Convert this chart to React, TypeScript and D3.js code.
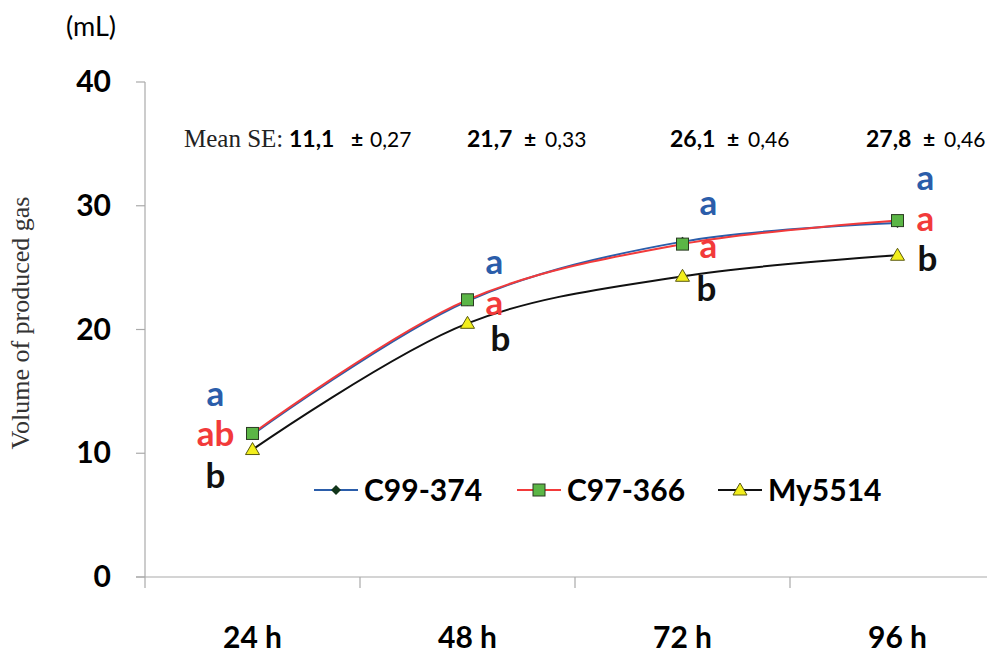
import React from 'react'
import * as d3 from 'd3'

const hours = ['24 h', '48 h', '72 h', '96 h']
const c99 = [11.5, 22.3, 27.1, 28.6]
const c97 = [11.6, 22.4, 26.9, 28.8]
const my55 = [10.3, 20.5, 24.3, 26.0]
const yTicks = [0, 10, 20, 30, 40]
const meanSE = ['11,1', '21,7', '26,1', '27,8']
const seVal = ['0,27', '0,33', '0,46', '0,46']
const lettersC99 = ['a', 'a', 'a', 'a']
const lettersC97 = ['ab', 'a', 'a', 'a']
const lettersMy = ['b', 'b', 'b', 'b']

const W = 987
const H = 653
const sans = "Lato, 'Open Sans', sans-serif"
const serif = "'Liberation Serif', 'DejaVu Serif', serif"
const blue = '#2B5DAA'
const red = '#F23A3A'

export default function App() {
  const x = d3.scaleBand().domain(hours).range([145, 1005])
  const y = d3.scaleLinear().domain([0, 40]).range([577, 82])
  const cx = (h: string) => (x(h) as number) + x.bandwidth() / 2

  const line = d3.line<number>()
    .x((d, i) => cx(hours[i]))
    .y(d => y(d))
    .curve(d3.curveCatmullRom.alpha(0.5))

  const series = [
    { name: 'C99-374', vals: c99, color: blue, marker: 'diamond' },
    { name: 'C97-366', vals: c97, color: red, marker: 'square' },
    { name: 'My5514', vals: my55, color: '#111', marker: 'triangle' },
  ]

  const marker = (m: string, px: number, py: number, key: string) => {
    if (m === 'diamond')
      return <path key={key} d={`M${px},${py - 5}L${px + 5},${py}L${px},${py + 5}L${px - 5},${py}Z`} fill="#12351a" />
    if (m === 'square')
      return <rect key={key} x={px - 6} y={py - 6} width={12} height={12} fill="#5BB646" stroke="#2a3a22" strokeWidth={1} />
    return <path key={key} d={`M${px},${py - 7}L${px + 7},${py + 5}L${px - 7},${py + 5}Z`} fill="#F2EE1C" stroke="#5a5a10" strokeWidth={1} />
  }

  // letter offsets from the marker of each series
  const dxA = [-37, 27, 26, 28]
  const dxB = [-37, 33, 24, 30]
  const dyBlue = [-29, -27, -27, -33]
  const dyRed = [13, 15, 14, 10]
  const dyBlack = [38, 28, 25, 16]
  const legendX = [314, 517, 718]
  // Mean SE row text positions
  const numX = [289, 467, 670, 866]

  return (
    <svg width={W} height={H} style={{ position: 'absolute', left: 0, top: 0, background: '#fff' }}>
      <text x={91} y={36} fontFamily={sans} fontSize={27} textAnchor="middle">(mL)</text>
      <text transform="translate(29,323) rotate(-90)" fontFamily={serif} fontSize={26} fill="#333" textAnchor="middle">Volume of produced gas</text>

      {/* axes */}
      <line x1={145} x2={145} y1={82} y2={577} stroke="#aaa" strokeWidth={1.2} />
      <line x1={136} x2={1005} y1={577} y2={577} stroke="#aaa" strokeWidth={1.2} />
      {yTicks.map(t => (
        <g key={t}>
          <line x1={136} x2={145} y1={y(t)} y2={y(t)} stroke="#aaa" strokeWidth={1.2} />
          <text x={111} y={y(t) + 10} textAnchor="end" fontFamily={sans} fontWeight="bold" fontSize={30}>{t}</text>
        </g>
      ))}
      {hours.map(h => (
        <g key={h}>
          <line x1={x(h) as number} x2={x(h) as number} y1={577} y2={588} stroke="#aaa" strokeWidth={1.2} />
          <text x={cx(h)} y={648} textAnchor="middle" fontFamily={sans} fontWeight="bold" fontSize={30}>{h}</text>
        </g>
      ))}

      {/* Mean SE row */}
      <text x={184} y={147} fontFamily={serif} fontSize={25} fill="#222">Mean SE:</text>
      {meanSE.map((m, i) => (
        <g key={m + i} fontFamily={sans}>
          <text x={numX[i]} y={147} fontWeight="bold" fontSize={23}>{m}</text>
          <text x={numX[i] + (i === 0 ? 62 : 57)} y={147} fontWeight="bold" fontSize={21}>±</text>
          <text x={numX[i] + (i === 0 ? 81 : 78)} y={147} fontSize={21}>{seVal[i]}</text>
        </g>
      ))}

      {/* lines */}
      {series.map(s => (
        <path key={s.name} d={line(s.vals) as string} fill="none" stroke={s.color} strokeWidth={2} />
      ))}
      {series.map(s => s.vals.map((v, i) => marker(s.marker, cx(hours[i]), y(v), s.name + i)))}

      {/* significance letters */}
      {hours.map((h, i) => (
        <g key={h} fontFamily={sans} fontWeight="bold" fontSize={35} textAnchor="middle">
          <text x={cx(h) + dxA[i]} y={y(c99[i]) + dyBlue[i]} fill={blue}>{lettersC99[i]}</text>
          <text x={cx(h) + dxA[i]} y={y(c97[i]) + dyRed[i]} fill={red}>{lettersC97[i]}</text>
          <text x={cx(h) + dxB[i]} y={y(my55[i]) + dyBlack[i]} fill="#111">{lettersMy[i]}</text>
        </g>
      ))}

      {/* legend */}
      {series.map((s, i) => (
        <g key={s.name}>
          <line x1={legendX[i]} x2={legendX[i] + 44} y1={490} y2={490} stroke={s.color} strokeWidth={2} />
          {marker(s.marker, legendX[i] + 22, 490, 'lg' + i)}
          <text x={legendX[i] + 50} y={501} fontFamily={sans} fontWeight="bold" fontSize={30}>{s.name}</text>
        </g>
      ))}
    </svg>
  )
}
